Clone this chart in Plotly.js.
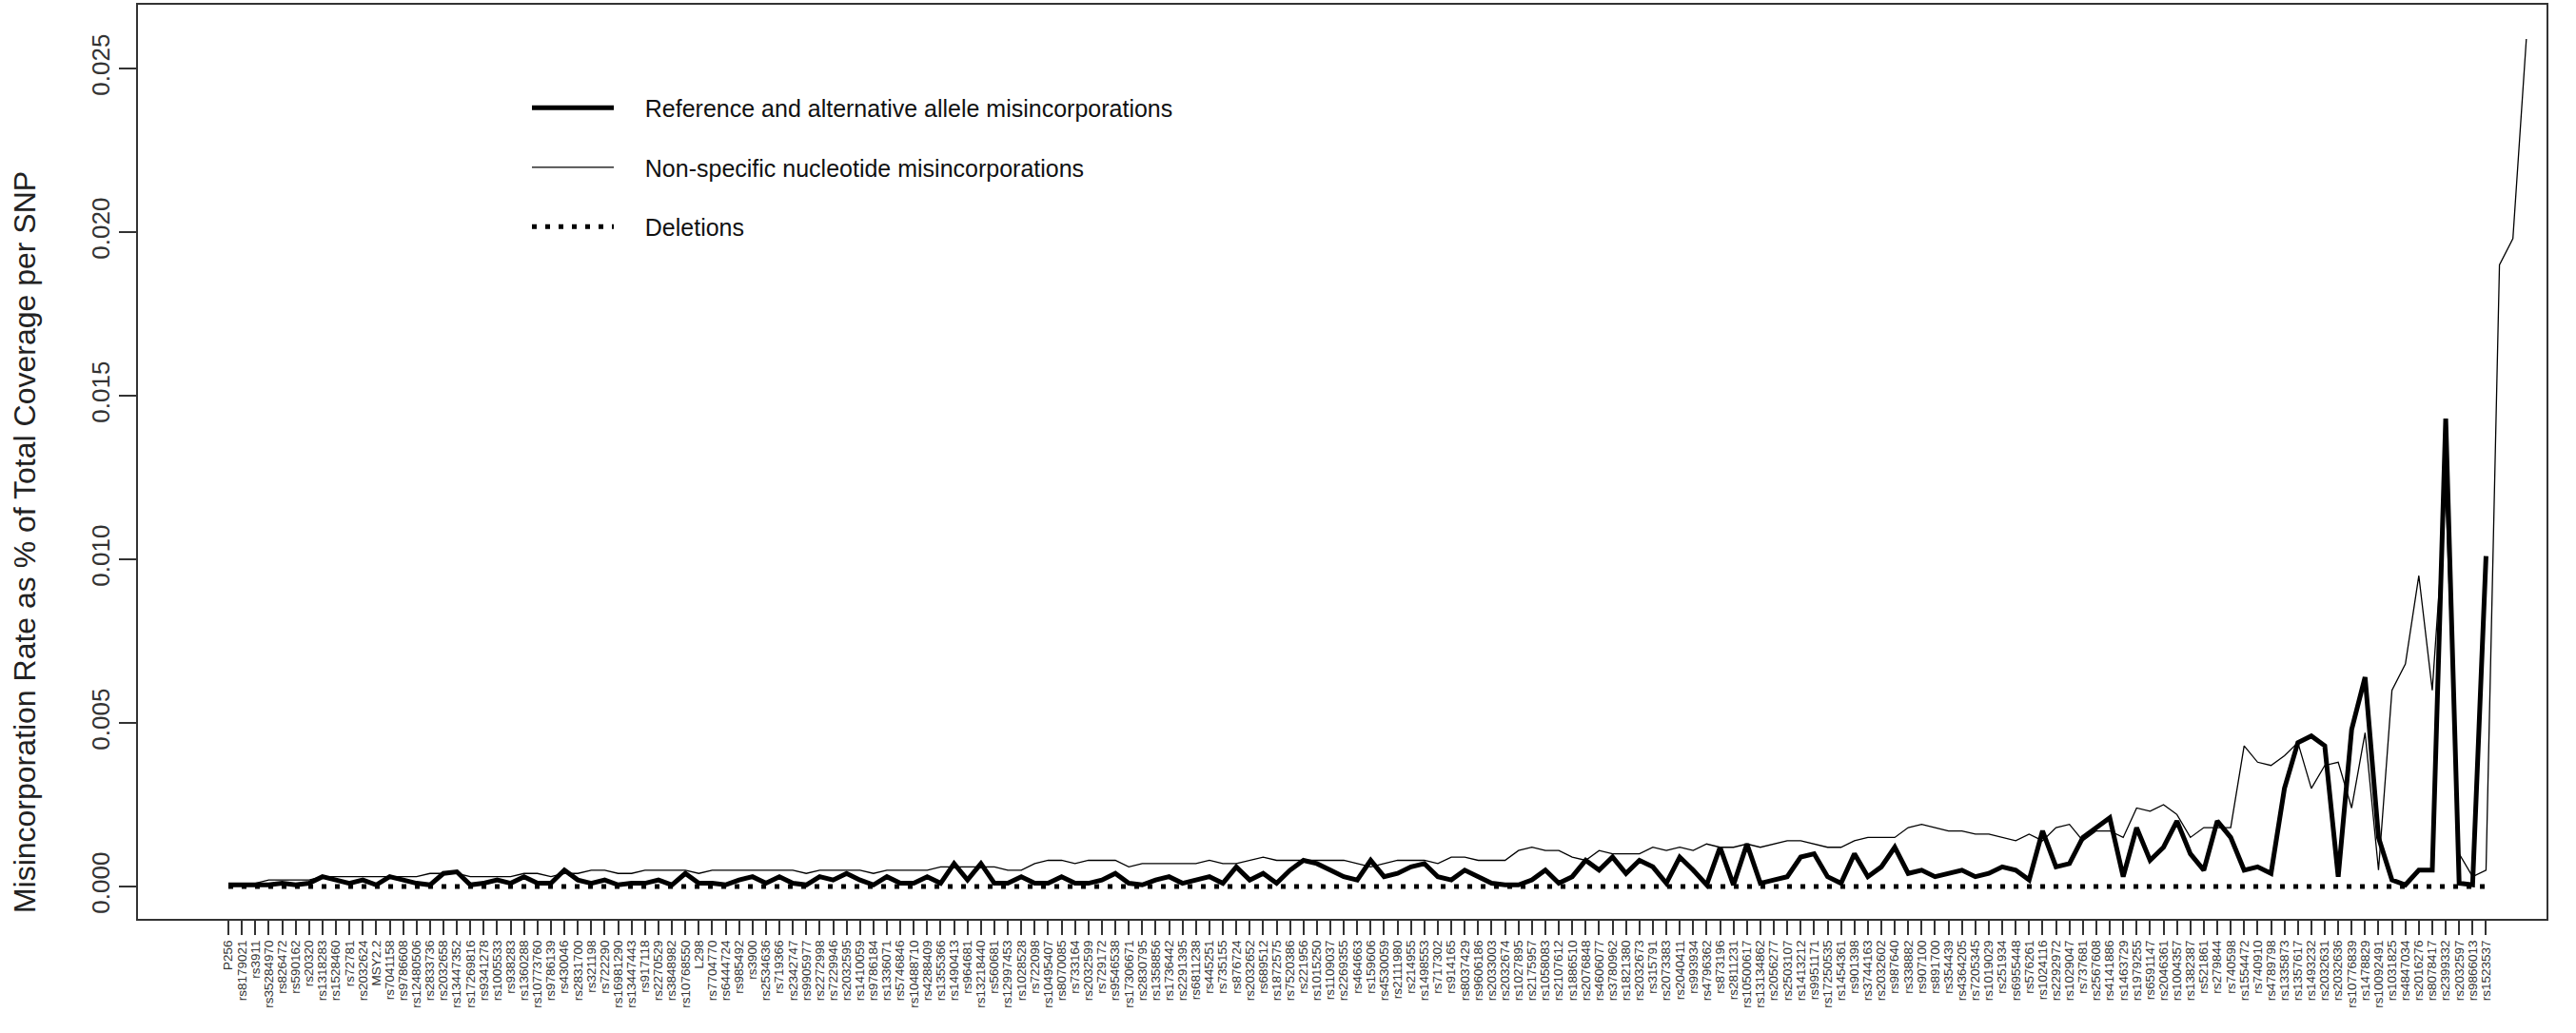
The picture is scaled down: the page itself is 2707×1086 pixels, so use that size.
<!DOCTYPE html>
<html><head><meta charset="utf-8">
<script src="https://cdn.plot.ly/plotly-3.0.1.min.js"></script>
<style>html,body{margin:0;padding:0;background:#fff}#chart{width:2707px;height:1086px}</style>
</head><body><div id="chart"></div>
<script>
const snps = ["P256","rs8179021","rs3911","rs35284970","rs826472","rs590162","rs20320","rs1318283","rs1528460","rs72781","rs2032624","MSY2.2","rs7041158","rs9786608","rs12480506",
"rs2833736","rs2032658","rs13447352","rs17269816","rs9341278","rs1005533","rs938283","rs1360288","rs10773760","rs9786139","rs430046","rs2831700","rs321198","rs722290","rs16981290","rs13447443",
"rs917118","rs2270529","rs3848982","rs10768550","L298","rs7704770","rs6444724","rs985492","rs3900","rs2534636","rs719366","rs2342747","rs9905977","rs2272998","rs7229946",
"rs2032595","rs1410059","rs9786184","rs1336071","rs5746846","rs10488710","rs4288409","rs1355366","rs1490413","rs964681","rs13218440","rs560681","rs12997453","rs1028528","rs722098","rs10495407",
"rs8070085","rs733164","rs2032599","rs729172","rs9546538","rs17306671","rs2830795","rs1358856","rs1736442","rs2291395","rs6811238","rs445251","rs735155","rs876724","rs2032652",
"rs689512","rs1872575","rs7520386","rs221956","rs1015250","rs1109037","rs2269355","rs464663","rs159606","rs4530059","rs2111980","rs214955","rs1498553","rs717302","rs914165","rs8037429",
"rs9606186","rs2033003","rs2032674","rs1027895","rs2175957","rs1058083","rs2107612","rs1886510","rs2076848","rs4606077","rs3780962","rs1821380","rs2032673","rs315791","rs2073383","rs2040411",
"rs993934","rs4796362","rs873196","rs2811231","rs10500617","rs13134862","rs2056277","rs2503107","rs1413212","rs9951171","rs17250535","rs1454361","rs901398","rs3744163","rs2032602",
"rs987640","rs338882","rs907100","rs891700","rs354439","rs4364205","rs7205345","rs1019029","rs251934","rs6955448","rs576261","rs1024116","rs2292972","rs1029047","rs737681","rs2567608",
"rs4141886","rs1463729","rs1979255","rs6591147","rs2046361","rs1004357","rs1382387","rs521861","rs279844","rs740598","rs1554472","rs740910","rs4789798","rs1335873","rs1357617",
"rs1493232","rs2032631","rs2032636","rs10776839","rs1478829","rs10092491","rs1031825","rs4847034","rs2016276","rs8078417","rs2399332","rs2032597","rs9866013","rs1523537"];

// values in units of 1e-4 (converted below)
const refAlt = [0.5,0.5,0.5,0.5,1,0.5,1,3,2,1, 2,0.5,3,2,1,0.5,4,4.5,0.5,1, 2,1,3,1,1,5,2,1,2,0.5,
1,1,2,0.5,4,1,1,0.5,2,3, 1,3,1,0.5,3,2,4,2,0.5,3, 1,1,3,1,7,2,7,1,1,3,
1,1,3,1,1,2,4,1,0.5,2, 3,1,2,3,1,6,2,4,1,5, 8,7,5,3,2,8,3,4,6,7,
3,2,5,3,1,0.5,0.5,2,5,1, 3,8,5,9,4,8,6,1,9,5, 0.5,12,0.5,13,1,2,3,9,10,3,
1,10,3,6,12,4,5,3,4,5, 3,4,6,5,2,17,6,7,15,18, 21,3,18,8,12,20,10,5,20,15,
5,6,4,30,44,46,43,3,48,64, 15,2,0.5,5,5,143,1,0.5,101];
const nonSpecific = [1,1,1,2,2,2,2,3,3,3,3,3,3,3,3,4,4,4,3,3,
3,3,4,4,3,4,4,5,5,4,4,5,5,5,5,4,5,5,5,5,
5,5,5,4,5,5,5,5,4,5,5,5,5,6,6,6,6,6,5,5,
7,8,8,7,8,8,8,6,7,7,7,7,7,8,7,7,8,9,8,8,
8,8,8,8,7,6,7,8,8,8,7,9,9,8,8,8,11,12,11,11,
9,8,11,10,10,10,12,11,12,11,13,12,12,13,12,13,14,14,13,12,
12,14,15,15,15,18,19,18,17,17,16,16,15,14,16,14,18,19,14,17,
17,15,24,23,25,22,15,18,18,18,43,38,37,40,44,30,37,38,24,47,
5,60,68,95,60,120,10,3,5,190,198,259];
const deletions = snps.map(()=>0);

const idx = arr => arr.map((_, i) => i);
const scale = v => v.map(x => x*1e-4);
const yTicks = [0,0.005,0.01,0.015,0.02,0.025];
const yTickText = ["0.000","0.005","0.010","0.015","0.020","0.025"];
const pad = '\u00a0\u00a0\u00a0\u00a0';

const traces = [
 {x:idx(refAlt), y:scale(refAlt), type:'scatter', mode:'lines', name:pad+'Reference and alternative allele misincorporations',
  line:{color:'#000', width:5}, legendgroup:'a'},
 {x:idx(nonSpecific), y:scale(nonSpecific), type:'scatter', mode:'lines', name:pad+'Non-specific nucleotide misincorporations',
  line:{color:'#000', width:1.3}, legendgroup:'b'},
 {x:idx(deletions), y:deletions, type:'scatter', mode:'lines', name:pad+'Deletions',
  line:{color:'#000', width:5, dash:'5px,9px'}, legendgroup:'c'}
];

const layout = {
 width:2707, height:1086,
 margin:{l:145, r:31, t:5, b:120},
 paper_bgcolor:'#fff', plot_bgcolor:'#fff',
 font:{family:'Liberation Sans, Arial, sans-serif', color:'#222'},
 showlegend:true,
 legend:{x:0.1616, y:0.911, xanchor:'left', yanchor:'top', bgcolor:'rgba(0,0,0,0)',
   font:{size:25, family:'Liberation Sans, Arial, sans-serif', color:'#111'},
   tracegroupgap:27, itemwidth:86},
 xaxis:{range:[-6.73,172.5], showgrid:false, zeroline:false,
   showline:true, mirror:true, linecolor:'#333', linewidth:2,
   ticks:'outside', ticklen:15, tickwidth:2, tickcolor:'#333',
   tickmode:'array', tickvals:idx(snps), ticktext:snps,
   tickangle:-90, tickfont:{size:13.5, color:'#333'}, automargin:false},
 yaxis:{range:[-0.000988,0.026948], showgrid:false, zeroline:false,
   showline:true, mirror:true, linecolor:'#333', linewidth:2,
   ticks:'outside', ticklen:18, tickwidth:2, tickcolor:'#333',
   tickvals:yTicks, ticktext:yTickText, tickangle:-90, tickfont:{size:26, color:'#333'},
   automargin:false},
 annotations:[{text:'Misincorporation Rate as % of Total Coverage per SNP', xref:'paper', yref:'paper',
   x:-0.047, y:0.412, xanchor:'center', yanchor:'middle', textangle:-90, showarrow:false,
   font:{size:32, color:'#222'}}]
};
Plotly.newPlot('chart', traces, layout, {staticPlot:true, displayModeBar:false});
</script></body></html>
